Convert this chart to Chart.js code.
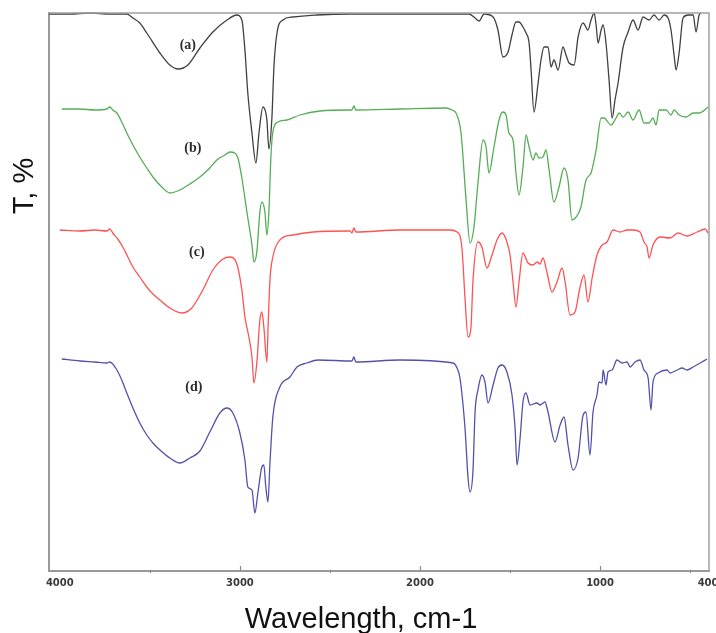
<!DOCTYPE html>
<html><head><meta charset="utf-8">
<script src="https://cdn.jsdelivr.net/npm/chart.js@4/dist/chart.umd.min.js"></script>
<style>html,body{margin:0;padding:0;background:#fff;}#wrap{width:716px;height:633px;}</style>
</head><body><div id="wrap"><canvas id="c" width="716" height="633"></canvas></div>
<script>
// ---- data (wavenumber, cm-1 / transmittance, offset %) ----
const seriesNames = ['(a)', '(b)', '(c)', '(d)'];
const seriesColors = ['#404040', '#55ad55', '#ff5252', '#5252aa'];

const wnA = [4060,3944,3833,3722,3628,3594,3556,3517,3444,3389,3344,3289,3222,3150,3072,3017,2989,2972,2956,2933,2911,2894,2872,2850,2839,2822,2811,2794,2761,2706,2572,2389,2111,1889,1728,1700,1672,1644,1594,1567,1539,1511,1489,1467,1450,1428,1411,1394,1383,1367,1344,1328,1311,1289,1272,1256,1233,1206,1189,1172,1144,1122,1094,1067,1050,1033,1022,1011,994,983,967,950,933,917,900,872,844,817,789,761,728,700,672,644,622,606,589,578,561,539,511,483,467,450,439];
const tA = [111.4,111.4,111.6,111.4,111.4,110.6,109.6,107.6,103.6,101.2,100.4,101.2,104.6,107.8,110.2,111.2,110.2,104.2,95.6,87.6,81.6,87.6,92.8,90.2,84.4,90.8,100.8,107.6,110.2,110.8,111.2,111.4,111.4,111.4,111.4,110.8,110,111.4,110.8,108.2,102.8,103.8,107.2,109.8,109.8,108.8,107.6,105.6,100.2,91.8,97.6,102.2,104.8,104.8,100.8,102.2,100.2,104.8,103.2,101.6,101.2,106.8,109.6,108.2,110.2,111.6,109.2,105.6,108.2,109.2,105.6,98.2,90.6,94.2,97.6,104.8,107.8,110.2,108.2,110.8,110.2,111.2,110.2,111.2,110.6,108.2,103.2,100.2,103.6,110.6,111.2,111.2,107.8,111.2,111.6];

const wnB = [3989,3889,3806,3739,3722,3706,3683,3656,3628,3594,3556,3517,3483,3428,3389,3333,3278,3222,3167,3128,3083,3056,3028,3011,2989,2961,2933,2922,2906,2889,2878,2861,2850,2839,2828,2817,2789,2739,2667,2556,2389,2378,2367,2356,2111,1856,1822,1800,1772,1744,1722,1700,1678,1650,1633,1617,1589,1561,1539,1522,1506,1483,1467,1450,1428,1411,1394,1372,1356,1339,1317,1300,1283,1256,1228,1200,1178,1156,1133,1106,1078,1050,1022,994,978,939,911,894,872,844,817,783,756,728,706,689,672,633,606,589,561,522,483,450,400];
const tB = [92.4,92.4,92.2,92.4,92.8,92.2,91.6,89.8,87.6,85.2,82.8,80.6,78.8,76.6,75.6,76.2,77.4,78.8,80.6,82.2,83.2,83.8,83.6,82.6,78.6,71.8,65.2,61.8,63.8,71.8,73.8,71.8,67.2,71.8,82.6,87.8,89.8,90.2,91.2,92,92.2,92.2,93,92.2,92.4,92.6,92.2,91.6,87.6,74.2,65.6,68.8,77.6,86.2,84.8,79.6,84.8,90.2,91.8,91.2,87.6,86.2,79.6,75.2,80.8,87.2,84.8,82.2,83.6,82.6,82.8,84.2,80.2,73.8,76.8,80.6,78.2,70.2,70.8,72.8,78.2,79.6,84.2,90.6,90.6,89.2,90.6,91.6,90.8,91.8,90.2,92.2,89.6,89.6,90.6,89.2,92.2,92.2,91.2,92.2,91.2,90.8,91.6,91.6,92.8];

const wnC = [4000,3889,3806,3739,3722,3706,3678,3650,3622,3594,3556,3517,3483,3444,3389,3322,3267,3206,3150,3094,3056,3017,2989,2972,2950,2933,2922,2906,2889,2878,2867,2850,2844,2833,2817,2778,2706,2594,2389,2378,2367,2356,2111,1833,1794,1767,1750,1733,1717,1706,1678,1656,1628,1600,1572,1544,1517,1500,1483,1467,1450,1428,1400,1372,1350,1333,1317,1294,1267,1239,1211,1194,1167,1139,1111,1089,1067,1044,1017,989,961,928,889,850,817,778,756,739,728,706,667,611,567,517,461,417,400];
const tC = [68.2,68,68.2,68,68.4,67.6,66.4,64.8,62.8,60.8,58.8,56.8,55.4,54.2,52.6,51.6,52.6,56.2,60.2,62.4,62.8,61.4,56.2,50.8,46.8,42.8,37.6,41.6,50.2,51.8,48.8,41.8,48.2,58.2,62.8,66.2,67.2,67.8,68,67.6,68.6,67.8,68.2,68.2,67.8,64.6,54.6,46.8,48.6,57.8,65.8,64.8,60.6,63.2,66.2,67.6,65.8,63.2,57.8,52.8,57.8,63.6,61.6,61.2,61.8,61.4,62.6,59.6,55.8,57.8,60.6,57.8,51.2,51.8,56.8,59.2,53.8,58.6,63.2,65.2,65.8,68.2,67.8,68.2,68.2,67.8,65.8,64.8,62.6,65.2,66.8,66.6,67.6,67,67.8,68.4,67.6];

const wnD = [3989,3889,3806,3739,3722,3683,3656,3628,3594,3556,3517,3483,3444,3389,3333,3278,3222,3167,3111,3072,3039,3000,2972,2956,2933,2917,2900,2878,2867,2856,2844,2833,2817,2778,2722,2683,2628,2567,2378,2367,2356,2111,1817,1794,1778,1750,1733,1722,1706,1694,1678,1656,1639,1622,1594,1567,1544,1517,1489,1472,1461,1444,1428,1411,1389,1350,1333,1306,1289,1250,1222,1200,1178,1150,1122,1094,1078,1056,1039,1017,1006,989,983,967,956,933,906,878,850,833,806,778,756,733,717,706,678,628,611,572,544,517,483,444,406];
const tD = [42.4,42,41.8,41.6,41.8,40.2,38.2,35.6,32.6,29.6,27.2,25.6,24.2,22.6,21.6,22.6,24,27.8,31.6,32.6,31.6,27.6,22.2,16.8,16.2,11.6,15.6,20.8,21.2,16.8,13.8,21.6,30.8,36.8,38.8,40.8,41.6,42.2,42,42.8,41.8,42.2,41.6,40.6,38.6,28.6,18.6,15.8,19.8,31.8,36.2,39.2,37.8,33.6,37.2,40.6,41.2,39.8,35.2,28.6,21.2,26.6,33.8,35.6,33.2,33.6,33.2,33.8,31.8,25.8,29.2,30.8,25.2,20.2,22.6,31.2,31.8,23.2,31.8,35.2,37.8,37.6,40.2,37.2,39.8,40.2,42.2,41.6,41.8,40.8,41.8,42.2,40.2,38.6,32.2,37.8,39.6,40.2,39.6,40.2,40.6,40.2,40.8,41.6,42.4];

const xTicks = [4000, 3000, 2000, 1000, 400];
const xMinorTicks = [3500, 2500, 1500, 500];
const labelWn = [3289, 3261, 3239, 3256];
const labelT = [105.2, 84.6, 63.8, 36.8];
const xTitle = 'Wavelength, cm-1';
const yTitle = 'T, %';

// ---- build ----
const wnSets = [wnA, wnB, wnC, wnD];
const tSets = [tA, tB, tC, tD];
const datasets = seriesNames.map((name, k) => ({
  label: name,
  data: wnSets[k].map((x, i) => ({x: x, y: tSets[k][i]})),
  borderColor: seriesColors[k],
  borderWidth: 1.3,
  pointRadius: 0,
  fill: false,
  cubicInterpolationMode: 'monotone',
  clip: false
}));

const decor = {
  id: 'decor',
  afterDraw(chart) {
    const ctx = chart.ctx, a = chart.chartArea;
    const xs = chart.scales.x, ys = chart.scales.y;
    ctx.save();
    // top and right frame
    ctx.strokeStyle = '#a0a0a0'; ctx.lineWidth = 1.5;
    ctx.beginPath();
    ctx.moveTo(a.left, a.top); ctx.lineTo(a.right, a.top); ctx.lineTo(a.right, a.bottom);
    ctx.stroke();
    // tick marks
    ctx.strokeStyle = '#8a8a8a'; ctx.lineWidth = 1.2;
    xTicks.slice(1, 4).forEach(v => {
      const px = Math.round(xs.getPixelForValue(v)) + 0.5;
      ctx.beginPath(); ctx.moveTo(px, a.bottom); ctx.lineTo(px, a.bottom - 5); ctx.stroke();
    });
    xMinorTicks.forEach(v => {
      const px = Math.round(xs.getPixelForValue(v)) + 0.5;
      ctx.beginPath(); ctx.moveTo(px, a.bottom - 1); ctx.lineTo(px, a.bottom + 2); ctx.stroke();
    });
    // series labels
    ctx.fillStyle = '#2b2b2b';
    ctx.font = 'bold 14px "Liberation Serif", "DejaVu Serif", serif';
    ctx.textAlign = 'center'; ctx.textBaseline = 'middle';
    seriesNames.forEach((n, k) => {
      ctx.fillText(n, xs.getPixelForValue(labelWn[k]), ys.getPixelForValue(labelT[k]));
    });
    // axis titles
    ctx.fillStyle = '#111';
    ctx.font = '29px "Liberation Sans", Arial, sans-serif';
    ctx.textAlign = 'center'; ctx.textBaseline = 'alphabetic';
    ctx.fillText(xTitle, 361, 628);
    ctx.translate(33, 186); ctx.rotate(-Math.PI / 2);
    ctx.fillText(yTitle, 0, 0);
    ctx.restore();
  }
};

new Chart(document.getElementById('c'), {
  type: 'line',
  data: {datasets: datasets},
  plugins: [decor],
  options: {
    responsive: false, animation: false, devicePixelRatio: 1,
    layout: {padding: {left: 49, top: 13, right: 7, bottom: 0}},
    plugins: {legend: {display: false}, tooltip: {enabled: false}},
    scales: {
      x: {
        type: 'linear', reverse: true, min: 395, max: 4060,
        afterFit(s) { s.height = 62; s.paddingLeft = 0; s.paddingRight = 0; },
        afterBuildTicks(s) { s.ticks = xTicks.map(v => ({value: v})); },
        grid: {display: false, drawTicks: false},
        border: {display: true, color: '#999', width: 2},
        ticks: {font: {family: 'DejaVu Sans', size: 10, weight: 'bold'}, color: '#3a3a3a', padding: 6, maxRotation: 0, autoSkip: false,
                callback: v => String(v)}
      },
      y: {
        min: 0, max: 111.6,
        afterFit(s) { s.width = 0; s.paddingTop = 0; s.paddingBottom = 0; },
        grid: {display: false, drawTicks: false},
        border: {display: true, color: '#999', width: 2},
        ticks: {display: false}
      }
    }
  }
});
</script></body></html>
